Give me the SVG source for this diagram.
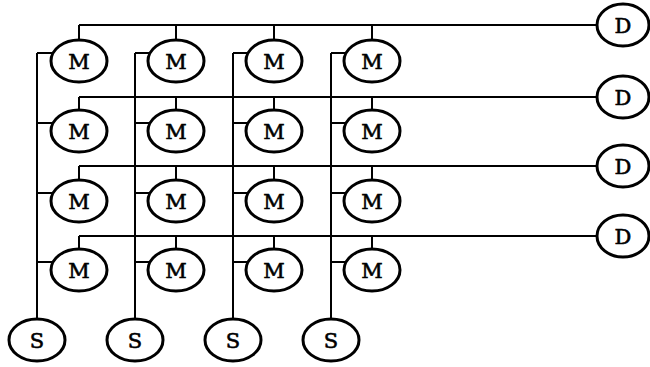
<svg xmlns="http://www.w3.org/2000/svg" width="650" height="367" viewBox="0 0 650 367">
<style>
.n ellipse{fill:#fff;stroke:#000;stroke-width:3}
.n text{font-family:"DejaVu Serif","Liberation Serif",serif;font-size:21px;text-anchor:middle;fill:#000;stroke:#000;stroke-width:0.6}
#connectors path{fill:none;stroke:#000;stroke-width:2}
</style>
<rect width="650" height="367" fill="#fff"/>
<g id="connectors">
<path d="M79 25H597M79 25V40M176 25V40M274 25V40M372 25V40"/>
<path d="M79 97H597M79 97V110M176 97V110M274 97V110M372 97V110"/>
<path d="M79 166H597M79 166V180M176 166V180M274 166V180M372 166V180"/>
<path d="M79 236H597M79 236V249M176 236V249M274 236V249M372 236V249"/>
<path d="M37 53V319M37 53H53M37 123H53M37 193H53M37 262H53"/>
<path d="M135 53V319M135 53H150M135 123H150M135 193H150M135 262H150"/>
<path d="M233 53V319M233 53H248M233 123H248M233 193H248M233 262H248"/>
<path d="M331 53V319M331 53H346M331 123H346M331 193H346M331 262H346"/>
</g>
<g id="m11" class="n"><ellipse cx="79" cy="61" rx="28" ry="21"/><text x="79" y="68.5">M</text></g>
<g id="m12" class="n"><ellipse cx="176" cy="61" rx="28" ry="21"/><text x="176" y="68.5">M</text></g>
<g id="m13" class="n"><ellipse cx="274" cy="61" rx="28" ry="21"/><text x="274" y="68.5">M</text></g>
<g id="m14" class="n"><ellipse cx="372" cy="61" rx="28" ry="21"/><text x="372" y="68.5">M</text></g>
<g id="m21" class="n"><ellipse cx="79" cy="131" rx="28" ry="21"/><text x="79" y="138.5">M</text></g>
<g id="m22" class="n"><ellipse cx="176" cy="131" rx="28" ry="21"/><text x="176" y="138.5">M</text></g>
<g id="m23" class="n"><ellipse cx="274" cy="131" rx="28" ry="21"/><text x="274" y="138.5">M</text></g>
<g id="m24" class="n"><ellipse cx="372" cy="131" rx="28" ry="21"/><text x="372" y="138.5">M</text></g>
<g id="m31" class="n"><ellipse cx="79" cy="201" rx="28" ry="21"/><text x="79" y="208.5">M</text></g>
<g id="m32" class="n"><ellipse cx="176" cy="201" rx="28" ry="21"/><text x="176" y="208.5">M</text></g>
<g id="m33" class="n"><ellipse cx="274" cy="201" rx="28" ry="21"/><text x="274" y="208.5">M</text></g>
<g id="m34" class="n"><ellipse cx="372" cy="201" rx="28" ry="21"/><text x="372" y="208.5">M</text></g>
<g id="m41" class="n"><ellipse cx="79" cy="270" rx="28" ry="21"/><text x="79" y="277.5">M</text></g>
<g id="m42" class="n"><ellipse cx="176" cy="270" rx="28" ry="21"/><text x="176" y="277.5">M</text></g>
<g id="m43" class="n"><ellipse cx="274" cy="270" rx="28" ry="21"/><text x="274" y="277.5">M</text></g>
<g id="m44" class="n"><ellipse cx="372" cy="270" rx="28" ry="21"/><text x="372" y="277.5">M</text></g>
<g id="d1" class="n"><ellipse cx="623" cy="25" rx="26" ry="21"/><text x="623" y="32.5">D</text></g>
<g id="d2" class="n"><ellipse cx="623" cy="97" rx="26" ry="21"/><text x="623" y="104.5">D</text></g>
<g id="d3" class="n"><ellipse cx="623" cy="166" rx="26" ry="21"/><text x="623" y="173.5">D</text></g>
<g id="d4" class="n"><ellipse cx="623" cy="236" rx="26" ry="21"/><text x="623" y="243.5">D</text></g>
<g id="s1" class="n"><ellipse cx="37" cy="340" rx="28" ry="21"/><text x="37" y="347.5">S</text></g>
<g id="s2" class="n"><ellipse cx="135" cy="340" rx="28" ry="21"/><text x="135" y="347.5">S</text></g>
<g id="s3" class="n"><ellipse cx="233" cy="340" rx="28" ry="21"/><text x="233" y="347.5">S</text></g>
<g id="s4" class="n"><ellipse cx="331" cy="340" rx="28" ry="21"/><text x="331" y="347.5">S</text></g>
</svg>
